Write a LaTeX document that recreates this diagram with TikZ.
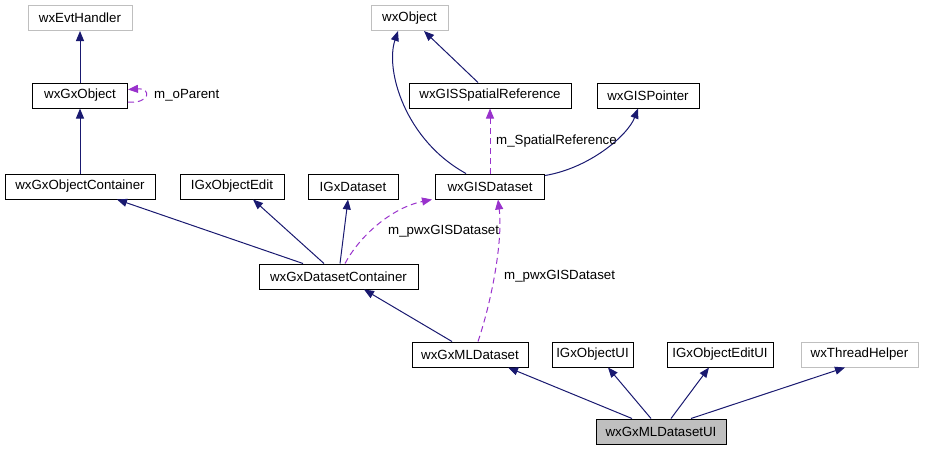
\documentclass[tikz,border=0pt]{standalone}
\usepackage{fontspec}
\setmainfont{Liberation Sans}
\usetikzlibrary{arrows.meta}
\definecolor{EdgeNavy}{RGB}{25,25,112}
\definecolor{RefPurple}{RGB}{153,50,204}
\definecolor{ExtGray}{RGB}{191,191,191}

\begin{document}
\begin{tikzpicture}[x=1pt,y=-1pt,
        cls/.style={draw=black,line width=1pt,minimum height=25pt,inner sep=0pt,
                    font=\fontsize{13.3}{16}\selectfont},
        ext/.style={cls,draw=ExtGray},
        cur/.style={cls,fill=ExtGray},
        inh/.style={-{Triangle[length=10pt,width=8pt]},EdgeNavy,line width=1pt},
        ref/.style={-{Triangle[length=10pt,width=8pt]},RefPurple,line width=1pt,
                    dash pattern=on 6pt off 4pt},
        lbl/.style={font=\fontsize{13.3}{16}\selectfont,inner sep=0pt,anchor=west}
      ]
        \useasboundingbox (0,0) rectangle (941,451);
        % Top rows
        \node[ext,minimum width=104pt] (evt) at (80,18) {wxEvtHandler};
        \node[cls,minimum width=95pt] (gxobj) at (80,95.5) {wxGxObject};
        \node[ext,minimum width=77pt] (wxobj) at (409.5,18) {wxObject};
        \node[cls,minimum width=162pt] (spref) at (490,95.5) {wxGISSpatialReference};
        \node[cls,minimum width=102pt] (ptr) at (648,95.5) {wxGISPointer};
        % Middle rows
        \node[cls,minimum width=150pt] (objcont) at (80,186.5) {wxGxObjectContainer};
        \node[cls,minimum width=104pt] (objedit) at (232,186.5) {IGxObjectEdit};
        \node[cls,minimum width=90pt] (gxds) at (353,186.5) {IGxDataset};
        \node[cls,minimum width=109pt] (gisds) at (490,186.5) {wxGISDataset};
        \node[cls,minimum width=159pt] (dscont) at (338.5,276.5) {wxGxDatasetContainer};
        % Bottom rows
        \node[cls,minimum width=116pt] (mlds) at (470,354.5) {wxGxMLDataset};
        \node[cls,minimum width=81pt] (objui) at (592.5,354.5) {IGxObjectUI};
        \node[cls,minimum width=106pt] (editui) at (720,354.5) {IGxObjectEditUI};
        \node[ext,minimum width=117pt] (thread) at (859.5,354.5) {wxThreadHelper};
        \node[cur,minimum width=130pt] (mlui) at (661,431.5) {wxGxMLDatasetUI};
        % Inheritance
        \draw[inh] (gxobj) -- (evt);
        \draw[inh] (objcont) -- (gxobj);
        \draw[inh] ([xshift=-35.5pt]dscont.north) -- ([xshift=37pt]objcont.south);
        \draw[inh] ([xshift=-14.5pt]dscont.north) -- ([xshift=21pt]objedit.south);
        \draw[inh] ([xshift=1.5pt]dscont.north) -- ([xshift=-5pt]gxds.south);
        \draw[inh] ([xshift=-18pt]mlds.north) -- ([xshift=25.5pt]dscont.south);
        \draw[inh] ([xshift=-12pt]spref.north) -- ([xshift=14.5pt]wxobj.south);
        \draw[inh] ([xshift=-24pt]gisds.north) .. controls (405,140) and (385,70) .. ([xshift=-11.5pt]wxobj.south);
        \draw[inh] ([yshift=-2pt]gisds.north east) .. controls (590,168) and (628,135) .. ([xshift=-10pt]ptr.south);
        \draw[inh] ([xshift=-29pt]mlui.north) -- ([xshift=38pt]mlds.south);
        \draw[inh] ([xshift=-10pt]mlui.north) -- ([xshift=15.5pt]objui.south);
        \draw[inh] ([xshift=10pt]mlui.north) -- ([xshift=-11pt]editui.south);
        \draw[inh] ([xshift=30pt]mlui.north) -- ([xshift=-14.5pt]thread.south);
        % Members
        \draw[ref] ([yshift=-6.5pt]gxobj.east) .. controls (150,104) and (152,88) .. ([yshift=6pt]gxobj.east);
        \node[lbl] (parentlbl) at (154,95) {m\_oParent};
        \draw[ref] (gisds) -- (spref);
        \node[lbl] (spreflbl) at (496,141) {m\_SpatialReference};
        \draw[ref] ([xshift=6.5pt]dscont.north) .. controls (362,232) and (395,207) .. ([xshift=-3pt]gisds.south west);
        \node[lbl] (dslbl) at (388,231) {m\_pwxGISDataset};
        \draw[ref] ([xshift=8pt]mlds.north) .. controls (492,300) and (503,240) .. ([xshift=8pt]gisds.south);
        \node[lbl] (mldslbl) at (504,276) {m\_pwxGISDataset};
      \end{tikzpicture}
\end{document}
